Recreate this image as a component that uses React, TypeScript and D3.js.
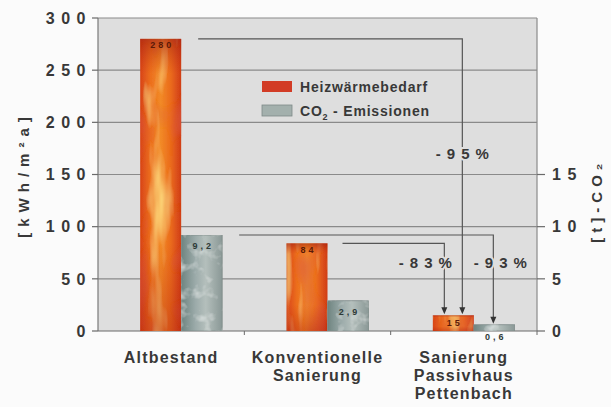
import React from "react";
import * as d3 from "d3";

const categories = ["Altbestand", "Konventionelle\nSanierung", "Sanierung\nPassivhaus\nPettenbach"];
const heatValues = [280, 84, 15];
const co2Values = [9.2, 2.9, 0.6];
const heatLabels = ["280", "84", "15"];
const co2Labels = ["9,2", "2,9", "0,6"];
const leftTicks = [0, 50, 100, 150, 200, 250, 300];
const rightTicks = [0, 5, 10, 15];
const legendLabels = ["Heizwärmebedarf", "CO₂ - Emissionen"];
const reductions = ["-95%", "-83%", "-93%"];

const W = 611, H = 407;
const M = { left: 98, right: 537, top: 18, bottom: 331 };
const FONT = "'Liberation Sans', Arial, sans-serif";
const TXT = "#383838";

export default function App() {
  const x = d3.scaleBand<string>().domain(categories).range([M.left, M.right]).padding(0);
  const y = d3.scaleLinear().domain([0, 300]).range([M.bottom, M.top]);
  const yR = d3.scaleLinear().domain([0, 30]).range([M.bottom, M.top]);
  const barW = 41;
  const sub = d3.scaleBand<string>().domain(["heat", "co2"]).range([0, barW * 2]);
  const pairStart = (c: string) => (x(c) as number) + (x.bandwidth() - barW * 2) / 2 + 10;
  const hx = (i: number) => pairStart(categories[i]) + (sub("heat") as number);
  const cx = (i: number) => pairStart(categories[i]) + (sub("co2") as number);

  // annotation geometry
  const X1 = hx(2) + barW / 2 + 9;
  const X2 = hx(2) + barW / 2 - 9;
  const X3 = cx(2) + barW / 2 - 1;
  const arrows = [
    { x0: hx(0) + barW + 17, y0: y(heatValues[0]), x1: X1, y1: y(heatValues[2]) },
    { x0: hx(1) + barW + 15, y0: y(heatValues[1]), x1: X2, y1: y(heatValues[2]) },
    { x0: cx(0) + barW + 17, y0: yR(co2Values[0]), x1: X3, y1: yR(co2Values[2]) },
  ];
  const pctPos = [
    { x: X1, y: y(170) },
    { x: X2 - 19, y: y(66) },
    { x: X3 + 7, y: y(66) },
  ];

  const tickStyle: React.CSSProperties = { fontFamily: FONT, fontWeight: 700, fontSize: 16, letterSpacing: 6.5, fill: TXT };

  return (
    <svg width={W} height={H} style={{ position: "absolute", left: 0, top: 0, background: "#fbfbfb" }}>
      <defs>
        <linearGradient id="heatG" x1="0" x2="1" y1="0" y2="0">
          <stop offset="0" stopColor="#d84418" />
          <stop offset="0.25" stopColor="#ec6e1e" />
          <stop offset="0.5" stopColor="#f28a26" />
          <stop offset="0.75" stopColor="#ea6a1c" />
          <stop offset="1" stopColor="#d03c18" />
        </linearGradient>
        <linearGradient id="heatV" x1="0" x2="0" y1="0" y2="1">
          <stop offset="0" stopColor="#9a1a10" stopOpacity="0.55" />
          <stop offset="0.12" stopColor="#c02a10" stopOpacity="0" />
          <stop offset="0.7" stopColor="#b01a10" stopOpacity="0" />
          <stop offset="1" stopColor="#a81810" stopOpacity="0.35" />
        </linearGradient>
        <linearGradient id="co2G" x1="0" x2="1" y1="0" y2="0">
          <stop offset="0" stopColor="#6e8480" />
          <stop offset="0.35" stopColor="#9cabaa" />
          <stop offset="0.6" stopColor="#b4bfbc" />
          <stop offset="1" stopColor="#8a9896" />
        </linearGradient>
        <filter id="flame" x="0" y="0" width="1" height="1">
          <feTurbulence type="fractalNoise" baseFrequency="0.06 0.012" numOctaves="3" seed="4" result="n" />
          <feColorMatrix in="n" type="matrix" values="0 0 0 0 1  0 0 0 0 0.75  0 0 0 0 0.22  0 0 0 2.0 -1.0" result="c" />
          <feComposite in="c" in2="SourceGraphic" operator="in" result="yl" />
          <feTurbulence type="fractalNoise" baseFrequency="0.04 0.02" numOctaves="2" seed="9" result="n2" />
          <feColorMatrix in="n2" type="matrix" values="0 0 0 0 0.7  0 0 0 0 0.1  0 0 0 0 0.05  0 0 0 1.8 -0.95" result="c2" />
          <feComposite in="c2" in2="SourceGraphic" operator="in" result="rd" />
          <feMerge><feMergeNode in="SourceGraphic" /><feMergeNode in="rd" /><feMergeNode in="yl" /></feMerge>
        </filter>
        <filter id="stone" x="0" y="0" width="1" height="1">
          <feTurbulence type="fractalNoise" baseFrequency="0.08" numOctaves="3" seed="2" result="n" />
          <feColorMatrix in="n" type="matrix" values="0 0 0 0 0.82  0 0 0 0 0.86  0 0 0 0 0.85  0 0 0 1.6 -0.85" result="c" />
          <feComposite in="c" in2="SourceGraphic" operator="in" result="l" />
          <feMerge><feMergeNode in="SourceGraphic" /><feMergeNode in="l" /></feMerge>
        </filter>
      </defs>

      {/* plot background */}
      <rect x={M.left} y={M.top} width={M.right - M.left} height={M.bottom - M.top} fill="#dedede" />

      {/* gridlines */}
      {leftTicks.filter((t) => t > 0).map((t) => (
        <line key={t} x1={M.left} x2={M.right} y1={y(t)} y2={y(t)} stroke="#8a8a8a" strokeWidth={1.2} />
      ))}
      <line x1={M.right} x2={M.right} y1={M.top} y2={M.bottom} stroke="#8a8a8a" strokeWidth={1.2} />

      {/* left axis */}
      <line x1={M.left} x2={M.left} y1={M.top} y2={M.bottom} stroke="#7a7a7a" strokeWidth={1.2} />
      {leftTicks.map((t) => (
        <g key={t}>
          <line x1={M.left - 6} x2={M.left} y1={y(t)} y2={y(t)} stroke="#6a6a6a" strokeWidth={1.2} />
          <text x={M.left - 6} y={y(t)} dy="0.36em" textAnchor="end" style={tickStyle}>{t}</text>
        </g>
      ))}
      {/* right axis */}
      {rightTicks.map((t) => (
        <g key={t}>
          <line x1={M.right} x2={M.right + 8} y1={yR(t)} y2={yR(t)} stroke="#6a6a6a" strokeWidth={1.2} />
          <text x={M.right + 15} y={yR(t)} dy="0.36em" textAnchor="start" style={tickStyle}>{t}</text>
        </g>
      ))}
      {/* x axis */}
      <line x1={M.left} x2={M.right} y1={M.bottom} y2={M.bottom} stroke="#6a6a6a" strokeWidth={1.2} />
      {categories.map((c, i) => (
        <line key={i} x1={(x(c) as number) + x.bandwidth()} x2={(x(c) as number) + x.bandwidth()} y1={M.bottom} y2={M.bottom + 4} stroke="#6a6a6a" />
      ))}

      {/* axis titles */}
      <text transform={`translate(24,${y(150)}) rotate(-90)`} textAnchor="middle" dy="0.36em"
        style={{ fontFamily: FONT, fontWeight: 700, fontSize: 15, letterSpacing: 6, fill: TXT }}>[kWh/m²a]</text>
      <text transform={`translate(597,${yR(12.5)}) rotate(-90)`} textAnchor="middle" dy="0.36em"
        style={{ fontFamily: FONT, fontWeight: 700, fontSize: 15, letterSpacing: 5, fill: TXT }}>[t]-CO₂</text>

      {/* bars */}
      {heatValues.map((v, i) => (
        <g key={"h" + i}>
          <rect x={hx(i)} y={y(v)} width={barW} height={M.bottom - y(v)} fill="url(#heatG)" filter="url(#flame)" />
          <rect x={hx(i)} y={y(v)} width={barW} height={M.bottom - y(v)} fill="url(#heatV)" />
        </g>
      ))}
      {co2Values.map((v, i) => (
        <rect key={"c" + i} x={cx(i)} y={yR(v)} width={barW} height={M.bottom - yR(v)} fill="url(#co2G)" filter="url(#stone)" stroke="#7e8a88" strokeWidth={0.8} />
      ))}

      {/* value labels */}
      {heatValues.map((v, i) => (
        <text key={"hl" + i} x={hx(i) + barW / 2 + 1.5} y={i === 2 ? (y(v) + M.bottom) / 2 : y(v) + 6} dy="0.36em" textAnchor="middle"
          style={{ fontFamily: FONT, fontWeight: 700, fontSize: 9, letterSpacing: 3, fill: "#5a1a08" }}>{heatLabels[i]}</text>
      ))}
      {co2Values.map((v, i) => (
        <text key={"cl" + i} x={cx(i) + barW / 2 + 1.5} y={i === 2 ? M.bottom + 6 : yR(v) + 11} dy="0.36em" textAnchor="middle"
          style={{ fontFamily: FONT, fontWeight: 700, fontSize: 9, letterSpacing: 3, fill: "#2e3a38" }}>{co2Labels[i]}</text>
      ))}

      {/* reduction arrows */}
      {arrows.map((a, i) => (
        <g key={"a" + i}>
          <path d={`M${a.x0},${a.y0}H${a.x1}V${a.y1 - 7}`} fill="none" stroke="#555" strokeWidth={1.2} />
          <path d={`M${a.x1 - 3},${a.y1 - 8}L${a.x1 + 3},${a.y1 - 8}L${a.x1},${a.y1 - 1}Z`} fill="#333" />
        </g>
      ))}
      {reductions.map((r, i) => (
        <text key={"p" + i} x={pctPos[i].x + 3} y={pctPos[i].y} dy="0.36em" textAnchor="middle"
          stroke="#dedede" strokeWidth={4} paintOrder="stroke"
          style={{ fontFamily: FONT, fontWeight: 700, fontSize: 15, letterSpacing: 6, fill: TXT }}>{r}</text>
      ))}

      {/* legend */}
      <rect x={262} y={81} width={30} height={11} fill="#d23c26" />
      <rect x={262} y={105} width={30} height={11} fill="#a3b0ad" stroke="#7e8a88" strokeWidth={0.8} />
      <text x={300} y={87} dy="0.36em" style={{ fontFamily: FONT, fontWeight: 700, fontSize: 14, letterSpacing: 0.8, fill: TXT }}>{legendLabels[0]}</text>
      <text x={300} y={111} dy="0.36em" style={{ fontFamily: FONT, fontWeight: 700, fontSize: 14, letterSpacing: 0.8, fill: TXT }}>
        CO<tspan fontSize={9} dy="4">2</tspan><tspan dy="-4">{" - Emissionen"}</tspan>
      </text>

      {/* category labels */}
      {categories.map((c, i) => (
        <text key={"x" + i} x={(x(c) as number) + x.bandwidth() / 2} y={357} textAnchor="middle"
          style={{ fontFamily: FONT, fontWeight: 700, fontSize: 16, letterSpacing: 1.2, fill: TXT }}>
          {c.split("\n").map((line, j) => (
            <tspan key={j} x={(x(c) as number) + x.bandwidth() / 2} dy={j === 0 ? "0.36em" : 18}>{line}</tspan>
          ))}
        </text>
      ))}
    </svg>
  );
}
